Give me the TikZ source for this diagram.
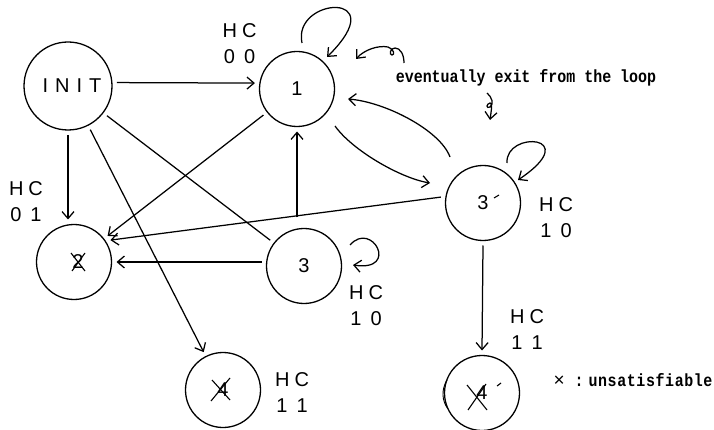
\documentclass[tikz,border=0pt]{standalone}
\usepackage{fontspec}
\setmainfont{Liberation Sans}
\newfontfamily\monof[FakeStretch=0.85]{Liberation Mono}
\usetikzlibrary{arrows.meta,calc}
\tikzset{
  st/.style={circle,draw,line width=1.3pt,minimum size=75pt,inner sep=0pt,outer sep=5pt,font=\fontsize{20}{20}\selectfont},
  ln/.style={line width=1.25pt},
  arr/.style={ln,-{Straight Barb[length=7pt,width=12pt]}},
  hc/.style={align=center,font=\fontsize{20}{26}\selectfont,inner sep=0pt},
  mono/.style={font=\monof\bfseries\fontsize{17.6}{17.6}\selectfont,inner sep=0pt},
  xmark/.style={line width=1.1pt}
}
\begin{document}
\begin{tikzpicture}[x=1pt,y=-1pt]
\useasboundingbox (0,0) rectangle (714,430);
% states
\node[st,minimum size=88pt] (init) at (68,86) {\hspace{8pt}I\hspace{7pt}N\hspace{7pt}I\hspace{7pt}T};
\node[st] (n1) at (297,89) {1};
\node[st] (n3p) at (483,203) {3\hspace{12pt}};
\node[st] (n2) at (74,262) {\hspace{8pt}2};
\node[st] (n3) at (304,266) {3};
\node[st] (n4) at (223,390) {4};
\node[st] (n4p) at (482,393) {4\hspace{12pt}};
% marks inside nodes
\draw[xmark] ($(n3p)+(11,-5)$) -- ($(n3p)+(16,-8)$);
\draw[xmark] ($(n4p)+(15,-7)$) -- ($(n4p)+(19,-10)$);
\draw[xmark] ($(n2)+(-3,-9)$) -- ($(n2)+(11,9)$);
\draw[xmark] ($(n2)+(11,-9)$) -- ($(n2)+(-2,9)$);
\draw[xmark] ($(n4)+(-11,-10)$) -- ($(n4)+(7,10)$);
\draw[xmark] ($(n4)+(7,-12)$) -- ($(n4)+(-12,11)$);
\draw[xmark] ($(n4p)+(-15,-8)$) -- ($(n4p)+(5,17)$);
\draw[xmark] ($(n4p)+(4,-9)$) -- ($(n4p)+(-14,17)$);
\draw[line width=0.9pt] ($(n4p)+(-35,-13)$) .. controls ($(n4p)+(-41,-3)$) and ($(n4p)+(-40,8)$) .. ($(n4p)+(-34,16)$);
% labels
\node[hc] (l00) at (239.5,43.5) {H\hspace{5pt}C\\0\hspace{9pt}0};
\node[hc] (l01) at (26,202) {H\hspace{5pt}C\\0\hspace{9pt}1};
\node[hc] (l3p) at (556,218) {H\hspace{5pt}C\\1\hspace{9pt}0};
\node[hc] (l3) at (366,305.5) {H\hspace{5pt}C\\1\hspace{9pt}0};
\node[hc] (l4) at (292,392.5) {H\hspace{5pt}C\\1\hspace{9pt}1};
\node[hc] (l4p) at (527,330) {H\hspace{5pt}C\\1\hspace{9pt}1};
\node[mono] (ann) at (526,78) {eventually exit from the loop};
\node[mono] (leg) at (633,380) {{\rmfamily\mdseries\fontsize{19}{19}\selectfont ×}\hspace{10pt}:\hspace{5pt}u\hspace{0.6pt}n\hspace{0.6pt}s\hspace{0.6pt}a\hspace{0.6pt}t\hspace{0.6pt}i\hspace{0.6pt}s\hspace{0.6pt}f\hspace{0.6pt}i\hspace{0.6pt}a\hspace{0.6pt}b\hspace{0.6pt}l\hspace{0.6pt}e};
% connectors
\draw[arr] (init.4) -- (n1.172);
\draw[arr] (init.south) -- (init.south |- n2.north);
\draw[arr] (init) -- (n4);
\draw[ln] (init) -- (n3);
\draw[arr] (n1) -- (n2);
\draw[arr] ($(n1.south |- n3.north)+(0,-6)$) -- (n1.south);
\draw[arr] (n3.west |- n2) -- (n2.east);
\draw[arr] (n3p.172) -- (n2.31);
\draw[arr] (n3p.south) -- (n4p.north);
\draw[arr] ($(n1)+(38,37)$) .. controls +(17,24) and +(-30,-5) .. ($(n3p)+(-53,-20)$);
\draw[arr] ($(n3p)+(-33,-46)$) .. controls +(-10,-27) and +(37,3) .. ($(n1)+(51,10)$);
% self loops
\draw[arr] ($(n1)+(5,-46)$) .. controls +(-10,-46) and +(68,-67) .. ($(n1)+(30,-32)$);
\draw[arr] ($(n3p)+(24,-40)$) .. controls +(-2,-33) and +(67,-45) .. ($(n3p)+(35,-23)$);
\draw[arr] ($(n3)+(46,-21)$) .. controls +(22,-25) and +(47,7) .. ($(n3)+(49,-1)$);
% annotation arrows
\coordinate (a1s) at (404,63);
\coordinate (a1e) at (356,59);
\draw[arr] (a1s) .. controls (404,54) and (400,48) .. (395,48) .. controls (390,48) and (389,55) .. (392,55) .. controls (395,55) and (394,49) .. (388,47) .. controls (378,45) and (364,50) .. (a1e);
\coordinate (a2s) at (487,93);
\coordinate (a2e) at (490,120);
\draw[arr] (a2s) .. controls (492,97) and (494,104) .. (490,107) .. controls (486,109) and (486,104) .. (490,103) .. controls (493,103) and (491,112) .. (a2e);
\end{tikzpicture}
\end{document}
